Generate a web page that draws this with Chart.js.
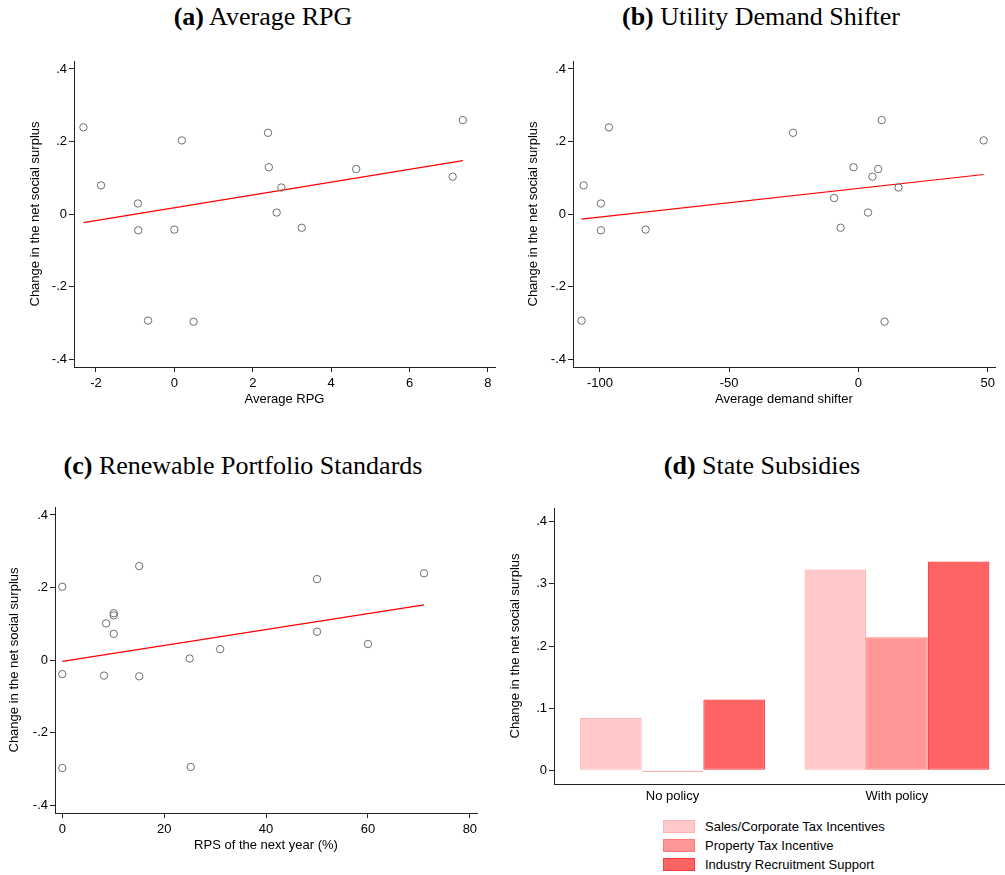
<!DOCTYPE html>
<html>
<head>
<meta charset="utf-8">
<script src="https://cdn.jsdelivr.net/npm/chart.js@4"></script>
<style>
  body { margin: 0; background: #fff; }
  #page { position: relative; width: 1005px; height: 875px; overflow: hidden; background: #fff; }
  .panel { position: absolute; }
  .title {
    position: absolute; width: 460px; text-align: center;
    font-family: "Liberation Serif", "Times New Roman", serif;
    font-size: 26px; line-height: 26px; color: #000; white-space: nowrap;
  }
  .title b { font-weight: bold; }
  #legendD { position: absolute; left: 663px; top: 817px; font-family: "Liberation Sans", Arial, sans-serif; font-size: 13px; color: #000; }
  #legendD .item { height: 19px; display: flex; align-items: center; }
  #legendD .box { width: 30px; height: 11px; margin-right: 10px; }
</style>
</head>
<body>
<div id="page">
  <div class="title" style="left:33px; top:4px;"><b>(a)</b> Average RPG</div>
  <div class="title" style="left:531px; top:4px;"><b>(b)</b> Utility Demand Shifter</div>
  <div class="title" style="left:13px; top:453px;"><b>(c)</b> Renewable Portfolio Standards</div>
  <div class="title" style="left:532px; top:453px;"><b>(d)</b> State Subsidies</div>

  <div class="panel" style="left:0; top:0; width:500px; height:412px;"><canvas id="chartA"></canvas></div>
  <div class="panel" style="left:500px; top:0; width:500px; height:412px;"><canvas id="chartB"></canvas></div>
  <div class="panel" style="left:0; top:440px; width:482px; height:418px;"><canvas id="chartC"></canvas></div>
  <div class="panel" style="left:500px; top:440px; width:505px; height:369px;"><canvas id="chartD"></canvas></div>
  <div id="legendD"></div>
</div>

<script>
// (a) average RPG
const rpgX = [-2.32, -1.87, -0.93, -0.92, -0.67, 0.0, 0.19, 0.49, 2.39, 2.41, 2.61, 2.73, 3.25, 4.64, 7.10, 7.36];
const rpgY = [0.239, 0.079, 0.029, -0.045, -0.294, -0.043, 0.203, -0.297, 0.224, 0.129, 0.004, 0.073, -0.038, 0.124, 0.103, 0.259];
const rpgFitX = [-2.32, 7.36];
const rpgFitY = [-0.024, 0.147];

// (b) utility demand shifter
const shiftX = [-107.1, -106.3, -99.6, -99.6, -96.5, -82.3, -25.3, -9.4, -6.9, -1.9, 3.7, 5.4, 7.6, 9.0, 10.1, 15.5, 48.4];
const shiftY = [-0.294, 0.079, 0.029, -0.045, 0.239, -0.043, 0.224, 0.044, -0.038, 0.129, 0.004, 0.103, 0.124, 0.259, -0.297, 0.073, 0.203];
const shiftFitX = [-107.1, 48.4];
const shiftFitY = [-0.014, 0.109];

// (c) RPS of the next year
const rpsX = [0, 0, 0, 8.2, 8.6, 10.1, 10.1, 10.1, 15.1, 15.1, 25.0, 25.2, 31.0, 50.0, 50.0, 60.0, 71.0];
const rpsY = [0.202, -0.039, -0.298, -0.043, 0.101, 0.129, 0.123, 0.072, 0.259, -0.045, 0.004, -0.295, 0.030, 0.223, 0.078, 0.044, 0.239];
const rpsFitX = [0, 71];
const rpsFitY = [-0.004, 0.152];

// (d) state subsidies
const policyGroups = ["No policy", "With policy"];
const subsidyNames = ["Sales/Corporate Tax Incentives", "Property Tax Incentive", "Industry Recruitment Support"];
const salesTax = [0.084, 0.323];
const propertyTax = [-0.001, 0.214];
const recruitment = [0.114, 0.336];

// ticks
const surplusTicks = [-0.4, -0.2, 0, 0.2, 0.4];
const barTicks = [0, 0.1, 0.2, 0.3, 0.4];
const rpgTicks = [-2, 0, 2, 4, 6, 8];
const shiftTicks = [-100, -50, 0, 50];
const rpsTicks = [0, 20, 40, 60, 80];

const yLabel = "Change in the net social surplus";

Chart.defaults.font.family = '"Liberation Sans", Arial, sans-serif';
Chart.defaults.font.size = 13;
Chart.defaults.color = "#000";

function stataNum(v) {
  if (v === 0) return "0";
  return String(v).replace("0.", ".");
}

function toPoints(xs, ys) {
  return xs.map((x, i) => ({ x: x, y: ys[i] }));
}

function fixedTicks(list) {
  return (scale) => {
    scale.ticks = list.map((v) => ({ value: v }));
  };
}

function axisGrid(tickLen) {
  return {
    display: true,
    offset: false,
    drawOnChartArea: false,
    drawTicks: tickLen > 0,
    tickLength: tickLen,
    tickColor: "#222",
  };
}

function scatterPanel(id, opts) {
  return new Chart(document.getElementById(id), {
    type: "scatter",
    data: {
      datasets: [
        {
          data: toPoints(opts.xs, opts.ys),
          pointRadius: 3.7,
          pointBorderWidth: 1,
          pointBorderColor: "#6e6e6e",
          pointBackgroundColor: "rgba(0,0,0,0)",
        },
        {
          data: toPoints(opts.fitX, opts.fitY),
          showLine: true,
          pointRadius: 0,
          borderColor: "#ff0000",
          borderWidth: 1.2,
          fill: false,
        },
      ],
    },
    options: {
      responsive: true,
      maintainAspectRatio: false,
      animation: false,
      layout: { padding: opts.padding },
      plugins: { legend: { display: false }, tooltip: { enabled: false } },
      scales: {
        x: {
          type: "linear",
          min: opts.xMin,
          max: opts.xMax,
          afterBuildTicks: fixedTicks(opts.xTicks),
          afterFit: (s) => { s.height = 45; },
          ticks: { padding: 4, maxRotation: 0 },
          grid: axisGrid(5),
          border: { display: true, color: "#222", width: 1 },
          title: { display: true, text: opts.xTitle, padding: { top: 0, bottom: 5 } },
        },
        y: {
          type: "linear",
          min: -0.422,
          max: 0.422,
          afterBuildTicks: fixedTicks(surplusTicks),
          afterFit: (s) => { s.width = opts.yWidth; },
          ticks: { padding: 2, callback: (v) => stataNum(v) },
          grid: axisGrid(5),
          border: { display: true, color: "#222", width: 1 },
          title: { display: true, text: yLabel, padding: { top: 4, bottom: 0 } },
        },
      },
    },
  });
}

scatterPanel("chartA", {
  xs: rpgX, ys: rpgY, fitX: rpgFitX, fitY: rpgFitY,
  xMin: -2.56, xMax: 8.18, xTicks: rpgTicks, xTitle: "Average RPG",
  padding: { top: 61, left: 24, right: 3, bottom: 0 }, yWidth: 50,
});

scatterPanel("chartB", {
  xs: shiftX, ys: shiftY, fitX: shiftFitX, fitY: shiftFitY,
  xMin: -110.4, xMax: 52.8, xTicks: shiftTicks, xTitle: "Average demand shifter",
  padding: { top: 61, left: 22, right: 3, bottom: 0 }, yWidth: 51,
});

scatterPanel("chartC", {
  xs: rpsX, ys: rpsY, fitX: rpsFitX, fitY: rpsFitY,
  xMin: -1.43, xMax: 81.4, xTicks: rpsTicks, xTitle: "RPS of the next year (%)",
  padding: { top: 67, left: 3, right: 3, bottom: 0 }, yWidth: 52,
});

const barColors = [
  { fill: "#ffc9c9", line: "#ffb3b3" },
  { fill: "#ff9696", line: "#ff7a7a" },
  { fill: "#ff6464", line: "#ff3a3a" },
];
const barSeries = [salesTax, propertyTax, recruitment];

const chartD = new Chart(document.getElementById("chartD"), {
  type: "bar",
  data: {
    datasets: barSeries.map((vals, k) => ({
      label: subsidyNames[k],
      data: vals.map((v, i) => ({ x: i, y: v })),
      backgroundColor: barColors[k].fill,
      borderColor: barColors[k].line,
      borderWidth: 1.2,
      borderSkipped: false,
      minBarLength: 1.5,
      categoryPercentage: 0.824,
      barPercentage: 1,
    })),
  },
  options: {
    responsive: true,
    maintainAspectRatio: false,
    animation: false,
    layout: { padding: { top: 68, left: 4, right: 1, bottom: 0 } },
    plugins: { legend: { display: false }, tooltip: { enabled: false } },
    scales: {
      x: {
        type: "linear",
        offset: false,
        bounds: "data",
        min: -0.528,
        max: 1.477,
        afterBuildTicks: fixedTicks([0, 1]),
        afterFit: (s) => { s.height = 25; },
        ticks: { padding: 5, maxRotation: 0, callback: (v) => policyGroups[v] },
        grid: axisGrid(0),
        border: { display: true, color: "#222", width: 1 },
      },
      y: {
        type: "linear",
        min: -0.022,
        max: 0.422,
        afterBuildTicks: fixedTicks(barTicks),
        afterFit: (s) => { s.width = 50; },
        ticks: { padding: 2, callback: (v) => stataNum(v) },
        grid: axisGrid(5),
        border: { display: true, color: "#222", width: 1 },
        title: { display: true, text: yLabel, padding: { top: 4, bottom: 0 } },
      },
    },
  },
});

function buildLegend(chart) {
  const box = document.getElementById("legendD");
  box.innerHTML = "";
  chart.data.datasets.forEach((ds) => {
    const row = document.createElement("div");
    row.className = "item";
    const sw = document.createElement("span");
    sw.className = "box";
    sw.style.background = ds.backgroundColor;
    sw.style.border = "1px solid " + ds.borderColor;
    const txt = document.createElement("span");
    txt.textContent = ds.label;
    row.appendChild(sw);
    row.appendChild(txt);
    box.appendChild(row);
  });
}

buildLegend(chartD);
</script>
</body>
</html>
